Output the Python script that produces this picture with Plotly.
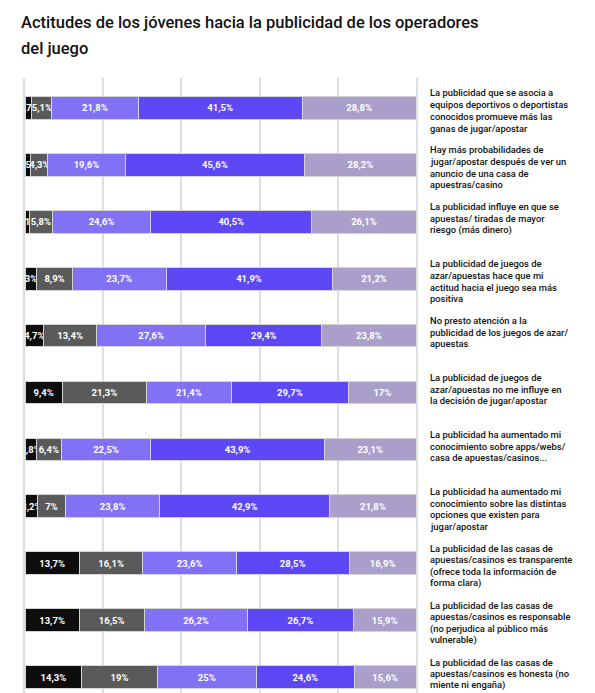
import plotly.graph_objects as go

# afirmaciones, linea a linea como en el original
afirmaciones = [
    ["La publicidad que se asocia a", "equipos deportivos o deportistas", "conocidos promueve más las", "ganas de jugar/apostar"],
    ["Hay más probabilidades de", "jugar/apostar después de ver un", "anuncio de una casa de", "apuestras/casino"],
    ["La publicidad influye en que se", "apuestas/ tiradas de mayor", "riesgo (más dinero)"],
    ["La publicidad de juegos de", "azar/apuestas hace que mi", "actitud hacia el juego sea más", "positiva"],
    ["No presto atención a la", "publicidad de los juegos de azar/", "apuestas"],
    ["La publicidad de juegos de", "azar/apuestas no me influye en", "la decisión de jugar/apostar"],
    ["La publicidad ha aumentado mi", "conocimiento sobre apps/webs/", "casa de apuestas/casinos..."],
    ["La publicidad ha aumentado mi", "conocimiento sobre las distintas", "opciones que existen para", "jugar/apostar"],
    ["La publicidad de las casas de", "apuestas/casinos es transparente", "(ofrece toda la información de", "forma clara)"],
    ["La publicidad de las casas de", "apuestas/casinos es responsable", "(no perjudica al público más", "vulnerable)"],
    ["La publicidad de las casas de", "apuestas/casinos es honesta (no", "miente ni engaña)"],
]

# porcentajes por nivel de acuerdo (de menor a mayor)
nivel1 = [1.7, 1.5, 1.1, 3.0, 4.7, 9.4, 2.8, 3.2, 13.7, 13.7, 14.3]
nivel2 = [5.1, 4.3, 5.8, 8.9, 13.4, 21.3, 6.4, 7.0, 16.1, 16.5, 19.0]
nivel3 = [21.8, 19.6, 24.6, 23.7, 27.6, 21.4, 22.5, 23.8, 23.6, 26.2, 25.0]
nivel4 = [41.5, 45.6, 40.5, 41.9, 29.4, 29.7, 43.9, 42.9, 28.5, 26.7, 24.6]
nivel5 = [28.8, 28.2, 26.1, 21.2, 23.8, 17.0, 23.1, 21.8, 16.9, 15.9, 15.6]

titulo = ["Actitudes de los jóvenes hacia la publicidad de los operadores", "del juego"]

series = [nivel1, nivel2, nivel3, nivel4, nivel5]
colores = ["#0d0d0d", "#5a5a5a", "#8270f5", "#5e48f5", "#aa9fcb"]
fuente = "Roboto, Liberation Sans, sans-serif"

ys = list(range(len(afirmaciones)))

fig = go.Figure()
for vals, col in zip(series, colores):
    etiquetas = [f"{v:g}".replace(".", ",") + "%" for v in vals]
    fig.add_trace(go.Bar(
        x=vals, y=ys, orientation="h",
        marker=dict(color=col, line=dict(color="#d4d4d4", width=1)),
        width=0.4,
        text=etiquetas, textposition="inside", insidetextanchor="middle",
        textangle=0,
        textfont=dict(color="white", size=9.5, family=fuente, weight="bold"),
        cliponaxis=True, hoverinfo="skip",
    ))

# textos de la derecha, una anotacion por linea
for i, lineas in enumerate(afirmaciones):
    for k, linea in enumerate(lineas):
        fig.add_annotation(
            x=1, xref="paper", xshift=12, y=i, yref="y",
            xanchor="left", yanchor="middle", yshift=15 - 11.7 * k,
            text=linea, showarrow=False, align="left",
            font=dict(size=9.4, color="#111", family=fuente, weight=500),
        )

# titulo
for k, linea in enumerate(titulo):
    fig.add_annotation(
        x=0, xref="paper", xshift=-6, y=1, yref="paper",
        xanchor="left", yanchor="middle", yshift=56 - 26 * k,
        text=linea, showarrow=False, align="left",
        font=dict(size=16.5, color="#111", family=fuente, weight=500),
    )

fig.update_layout(
    width=587, height=685,
    barmode="stack", barnorm="percent",
    showlegend=False,
    paper_bgcolor="white", plot_bgcolor="white",
    margin=dict(l=17, r=179, t=70, b=0),
    uniformtext=dict(minsize=9.5, mode="show"),
    xaxis=dict(range=[0, 100], dtick=20, showticklabels=False,
               showgrid=True, gridcolor="#dedede", gridwidth=1.5,
               zeroline=False, fixedrange=True),
    yaxis=dict(range=[10.28, -0.526], showticklabels=False, showgrid=False,
               zeroline=False, showline=True, mirror=True,
               linecolor="#dedede", linewidth=1.5, ticks=""),
)

fig.write_html("out.html")
